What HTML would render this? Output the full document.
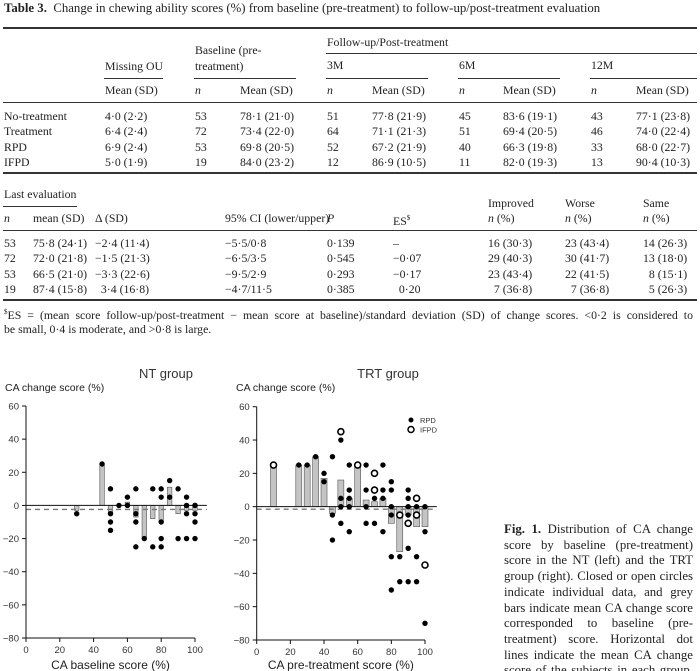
<!DOCTYPE html>
<html><head><meta charset="utf-8">
<style>
body{margin:0;background:#fff;}
#page{position:relative;width:700px;height:671px;overflow:hidden;background:#fff;font-family:"Liberation Serif",serif;color:#222;}
.t{position:absolute;font-size:11.8px;line-height:14px;white-space:nowrap;}
.hl{position:absolute;background:#333;height:1px;}
.thick{height:2px;}
.cl{position:absolute;left:504px;width:189px;font-size:12.8px;line-height:15px;text-align:justify;text-align-last:justify;white-space:nowrap;}
.fn{position:absolute;left:4px;width:689px;font-size:11.8px;line-height:15px;text-align:justify;text-align-last:justify;white-space:nowrap;}
svg text{font-family:"Liberation Sans",sans-serif;}
</style></head><body>
<div id="page">
<div class="t" style="left:4px;top:1px;font-size:12.8px"><b>Table 3.</b>&nbsp; Change in chewing ability scores (%) from baseline (pre-treatment) to follow-up/post-treatment evaluation</div>
<div class="hl thick" style="left:3px;top:27px;width:694px"></div>

<div>
<div class="t" style="left:327px;top:35px">Follow-up/Post-treatment</div>
<div class="hl" style="left:326px;top:53px;width:371px"></div>
<div class="t" style="left:195px;top:43px">Baseline (pre-</div>
<div class="t" style="left:195px;top:59px">treatment)</div>
<div class="t" style="left:105px;top:59px">Missing OU</div>
<div class="t" style="left:327px;top:58px">3M</div>
<div class="t" style="left:459px;top:58px">6M</div>
<div class="t" style="left:591px;top:58px">12M</div>
<div class="hl" style="left:104px;top:78px;width:59px"></div>
<div class="hl" style="left:194px;top:78px;width:102px"></div>
<div class="hl" style="left:326px;top:78px;width:102px"></div>
<div class="hl" style="left:458px;top:78px;width:102px"></div>
<div class="hl" style="left:590px;top:78px;width:107px"></div>
<div class="t" style="left:105px;top:83px">Mean (SD)</div>
<div class="t" style="left:195px;top:83px"><i>n</i></div>
<div class="t" style="left:240px;top:83px">Mean (SD)</div>
<div class="t" style="left:327px;top:83px"><i>n</i></div>
<div class="t" style="left:372px;top:83px">Mean (SD)</div>
<div class="t" style="left:459px;top:83px"><i>n</i></div>
<div class="t" style="left:503px;top:83px">Mean (SD)</div>
<div class="t" style="left:591px;top:83px"><i>n</i></div>
<div class="t" style="left:636px;top:83px">Mean (SD)</div>
</div>
<div class="hl" style="left:3px;top:102px;width:694px"></div>

<div id="rows1"></div>
<div class="hl thick" style="left:3px;top:172px;width:694px"></div>

<div>
<div class="t" style="left:4px;top:187px">Last evaluation</div>
<div class="hl" style="left:3px;top:206px;width:74px"></div>
<div class="t" style="left:488px;top:196px">Improved</div>
<div class="t" style="left:565px;top:196px">Worse</div>
<div class="t" style="left:643px;top:196px">Same</div>
<div class="t" style="left:4px;top:211px"><i>n</i></div>
<div class="t" style="left:33px;top:211px">mean (SD)</div>
<div class="t" style="left:95px;top:211px">&Delta; (SD)</div>
<div class="t" style="left:225px;top:211px">95% CI (lower/upper)</div>
<div class="t" style="left:327px;top:211px"><i>P</i></div>
<div class="t" style="left:393px;top:211px">ES<sup style="font-size:7px">$</sup></div>
<div class="t" style="left:488px;top:211px"><i>n</i> (%)</div>
<div class="t" style="left:565px;top:211px"><i>n</i> (%)</div>
<div class="t" style="left:643px;top:211px"><i>n</i> (%)</div>
</div>
<div class="hl" style="left:3px;top:230px;width:694px"></div>
<div id="rows2"></div>
<div class="hl thick" style="left:3px;top:299px;width:694px"></div>
<div class="fn" style="top:305px"><sup style="font-size:7px">$</sup>ES = (mean score follow-up/post-treatment &minus; mean score at baseline)/standard deviation (SD) of change scores. &lt;0·2 is considered to</div>
<div class="t" style="left:4px;top:322px">be small, 0·4 is moderate, and &gt;0·8 is large.</div>

<svg id="chart" width="700" height="671" style="position:absolute;left:0;top:0"></svg>

<div>
<div class="cl" style="top:522px"><b>Fig. 1.</b> Distribution of CA change</div>
<div class="cl" style="top:537.7px">score by baseline (pre-treatment)</div>
<div class="cl" style="top:553.4px">score in the NT (left) and the TRT</div>
<div class="cl" style="top:569.1px">group (right). Closed or open circles</div>
<div class="cl" style="top:584.8px">indicate individual data, and grey</div>
<div class="cl" style="top:600.5px">bars indicate mean CA change score</div>
<div class="cl" style="top:616.2px">corresponded to baseline (pre-</div>
<div class="cl" style="top:631.9px">treatment) score. Horizontal dot</div>
<div class="cl" style="top:647.6px">lines indicate the mean CA change</div>
<div class="cl" style="top:663.3px">score of the subjects in each group.</div>
</div>
</div>
<script>
var rows1 = [
 ["No-treatment","4·0 (2·2)","53","78·1 (21·0)","51","77·8 (21·9)","45","83·6 (19·1)","43","77·1 (23·8)"],
 ["Treatment","6·4 (2·4)","72","73·4 (22·0)","64","71·1 (21·3)","51","69·4 (20·5)","46","74·0 (22·4)"],
 ["RPD","6·9 (2·4)","53","69·8 (20·5)","52","67·2 (21·9)","40","66·3 (19·8)","33","68·0 (22·7)"],
 ["IFPD","5·0 (1·9)","19","84·0 (23·2)","12","86·9 (10·5)","11","82·0 (19·3)","13","90·4 (10·3)"]];
var cols1 = [4,105,195,240,327,372,459,503,591,636];
var rows2 = [
 ["53","75·8 (24·1)","−2·4 (11·4)","−5·5/0·8","0·139","–","16 (30·3)","23 (43·4)","14 (26·3)"],
 ["72","72·0 (21·8)","−1·5 (21·3)","−6·5/3·5","0·545","−0·07","29 (40·3)","30 (41·7)","13 (18·0)"],
 ["53","66·5 (21·0)","−3·3 (22·6)","−9·5/2·9","0·293","−0·17","23 (43·4)","22 (41·5)","\u20078 (15·1)"],
 ["19","87·4 (15·8)","\u20073·4 (16·8)","−4·7/11·5","0·385","\u20070·20","\u20077 (36·8)","\u20077 (36·8)","\u20075 (26·3)"]];
var cols2 = [4,33,95,225,327,393,488,565,643];
function fillRows(id, rows, cols, top0){
  var host=document.getElementById(id);
  rows.forEach(function(r,i){
    r.forEach(function(v,j){
      var d=document.createElement('div');
      d.className='t';
      d.style.left=cols[j]+'px';d.style.top=(top0+i*15.3)+'px';
      d.textContent=v;
      
      
      host.appendChild(d);
    });
  });
}
fillRows('rows1',rows1,cols1,109);
fillRows('rows2',rows2,cols2,236);

var ntBarX=[30,45,50,60,65,70,75,80,85,90,95,100];
var ntBarY=[-3,25,-5,2,-7,-19,-8,-9,11,-5,-3,-3];
var ntDotX=[30,45,50,50,50,50,55,60,60,65,65,65,65,70,75,75,80,80,80,80,80,85,85,90,90,95,95,95,95,100,100,100,100,100];
var ntDotY=[-5,25,10,-5,-10,-15,0,5,0,10,-5,-10,-25,-20,10,-25,10,5,-10,-20,-25,15,5,10,-20,5,0,-5,-20,0,0,-5,-10,-20];
var ntMean=-2.4;
var trtBarX=[10,25,30,35,40,45,50,55,60,65,70,75,80,85,90,95,100];
var trtBarY=[25,25,25,30,17,-4,16,5,25,4,3,5,-10,-27,-5,-12,-12];
var rpdX=[25,30,35,40,40,45,45,45,50,50,50,50,55,55,55,55,55,65,65,65,65,70,70,75,75,75,75,80,80,80,80,80,80,85,85,90,90,90,90,90,90,95,95,95,100,100,100];
var rpdY=[25,25,30,20,15,30,-5,-20,40,5,0,-10,25,10,5,0,-15,25,10,0,-10,5,-10,25,10,5,-15,15,10,0,-5,-30,-50,-30,-45,10,5,0,-5,-25,-45,0,-30,-45,0,-15,-70];
var ifpdX=[10,50,60,70,70,85,90,95,95,100];
var ifpdY=[25,45,25,20,10,-5,-10,5,-5,-35];
var trtMean=-1.5;
var yTicks=[60,40,20,0,-20,-40,-60,-80];
var xTicks=[0,20,40,60,80,100];

var NS='http://www.w3.org/2000/svg';
var svg=document.getElementById('chart');
function el(tag,attrs,parent){var e=document.createElementNS(NS,tag);for(var k in attrs)e.setAttribute(k,attrs[k]);(parent||svg).appendChild(e);return e;}

function drawPanel(p){
  var g=el('g',{});
  
  
  var sx=function(v){return p.x0+(v/100)*(p.x1-p.x0);};
  var sy=function(v){return p.yTop+(60-v)/140*(p.yBot-p.yTop);};
  p.barX.forEach(function(x,i){
    var y=p.barY[i];var top=Math.min(sy(0),sy(y));var h=Math.abs(sy(y)-sy(0));
    var b=el('rect',{x:sx(x)-p.bw/2,y:top,width:p.bw,height:Math.max(h,0.5),fill:'#c4c4c4',stroke:'#555','stroke-width':0.6},g);
    
    
  });
  el('line',{x1:sx(0),x2:sx(107),y1:sy(0),y2:sy(0),stroke:'#111','stroke-width':1},g);
  var m=el('line',{x1:sx(0),x2:sx(107),y1:sy(p.mean),y2:sy(p.mean),stroke:'#777','stroke-width':1.4,'stroke-dasharray':'5,4'},g);
  
  
  p.dots.forEach(function(s){
    s.x.forEach(function(x,i){
      var c=el('circle',{cx:sx(x),cy:sy(s.y[i]),r:s.open?3:2.7,fill:s.open?'#fff':'#000',stroke:'#000','stroke-width':s.open?1.6:0},g);
      
      
    });
  });
  el('line',{x1:sx(0),x2:sx(0),y1:sy(60),y2:sy(-80),stroke:'#111','stroke-width':1},g);
  el('line',{x1:sx(0),x2:sx(100),y1:sy(-80),y2:sy(-80),stroke:'#111','stroke-width':1},g);
  yTicks.forEach(function(t){
    el('line',{x1:sx(0)-4,x2:sx(0),y1:sy(t),y2:sy(t),stroke:'#111'},g);
    var tx=el('text',{x:sx(0)-7,y:sy(t)+3.5,'text-anchor':'end','font-size':9.5,fill:'#333'},g);
    tx.textContent=t<0?'\u2212'+(-t):t;
    
    
  });
  xTicks.forEach(function(t){
    el('line',{x1:sx(t),x2:sx(t),y1:sy(-80),y2:sy(-80)+4,stroke:'#111'},g);
    var tx=el('text',{x:sx(t),y:sy(-80)+15,'text-anchor':'middle','font-size':9.5,fill:'#333'},g);
    tx.textContent=t;
    
    
  });
  var ti=el('text',{x:p.titleX,y:378,'text-anchor':'middle','font-size':13,fill:'#333'},g);
  ti.textContent=p.title;
  
  
  var yl=el('text',{x:p.ylx,y:391,'font-size':10.5,fill:'#222'},g);
  yl.textContent='CA change score (%)';
  
  
  var xl=el('text',{x:(sx(0)+sx(100))/2,y:669,'text-anchor':'middle','font-size':12,fill:'#222'},g);
  xl.textContent=p.xlabel;
  
  
}
drawPanel({name:'nt-chart',x0:26,x1:195,yTop:406,yBot:638,bw:4.5,barX:ntBarX,barY:ntBarY,mean:ntMean,
  dots:[{x:ntDotX,y:ntDotY,open:false}],title:'NT group',titleX:166,ylx:5,xlabel:'CA baseline score (%)'});
drawPanel({name:'trt-chart',x0:256.7,x1:425,yTop:406.7,yBot:640,bw:6,barX:trtBarX,barY:trtBarY,mean:trtMean,
  dots:[{x:rpdX,y:rpdY,open:false},{x:ifpdX,y:ifpdY,open:true}],title:'TRT group',titleX:388,ylx:236,xlabel:'CA pre-treatment score (%)'});
var lg=el('g',{});


el('circle',{cx:411,cy:420,r:2.5,fill:'#000'},lg);
el('circle',{cx:411,cy:429.5,r:3,fill:'#fff',stroke:'#000','stroke-width':1.5},lg);
var l1=el('text',{x:420,y:423,'font-size':7.5,fill:'#333'},lg);l1.textContent='RPD';


var l2=el('text',{x:420,y:432.5,'font-size':7.5,fill:'#333'},lg);l2.textContent='IFPD';


</script>
</body></html>
